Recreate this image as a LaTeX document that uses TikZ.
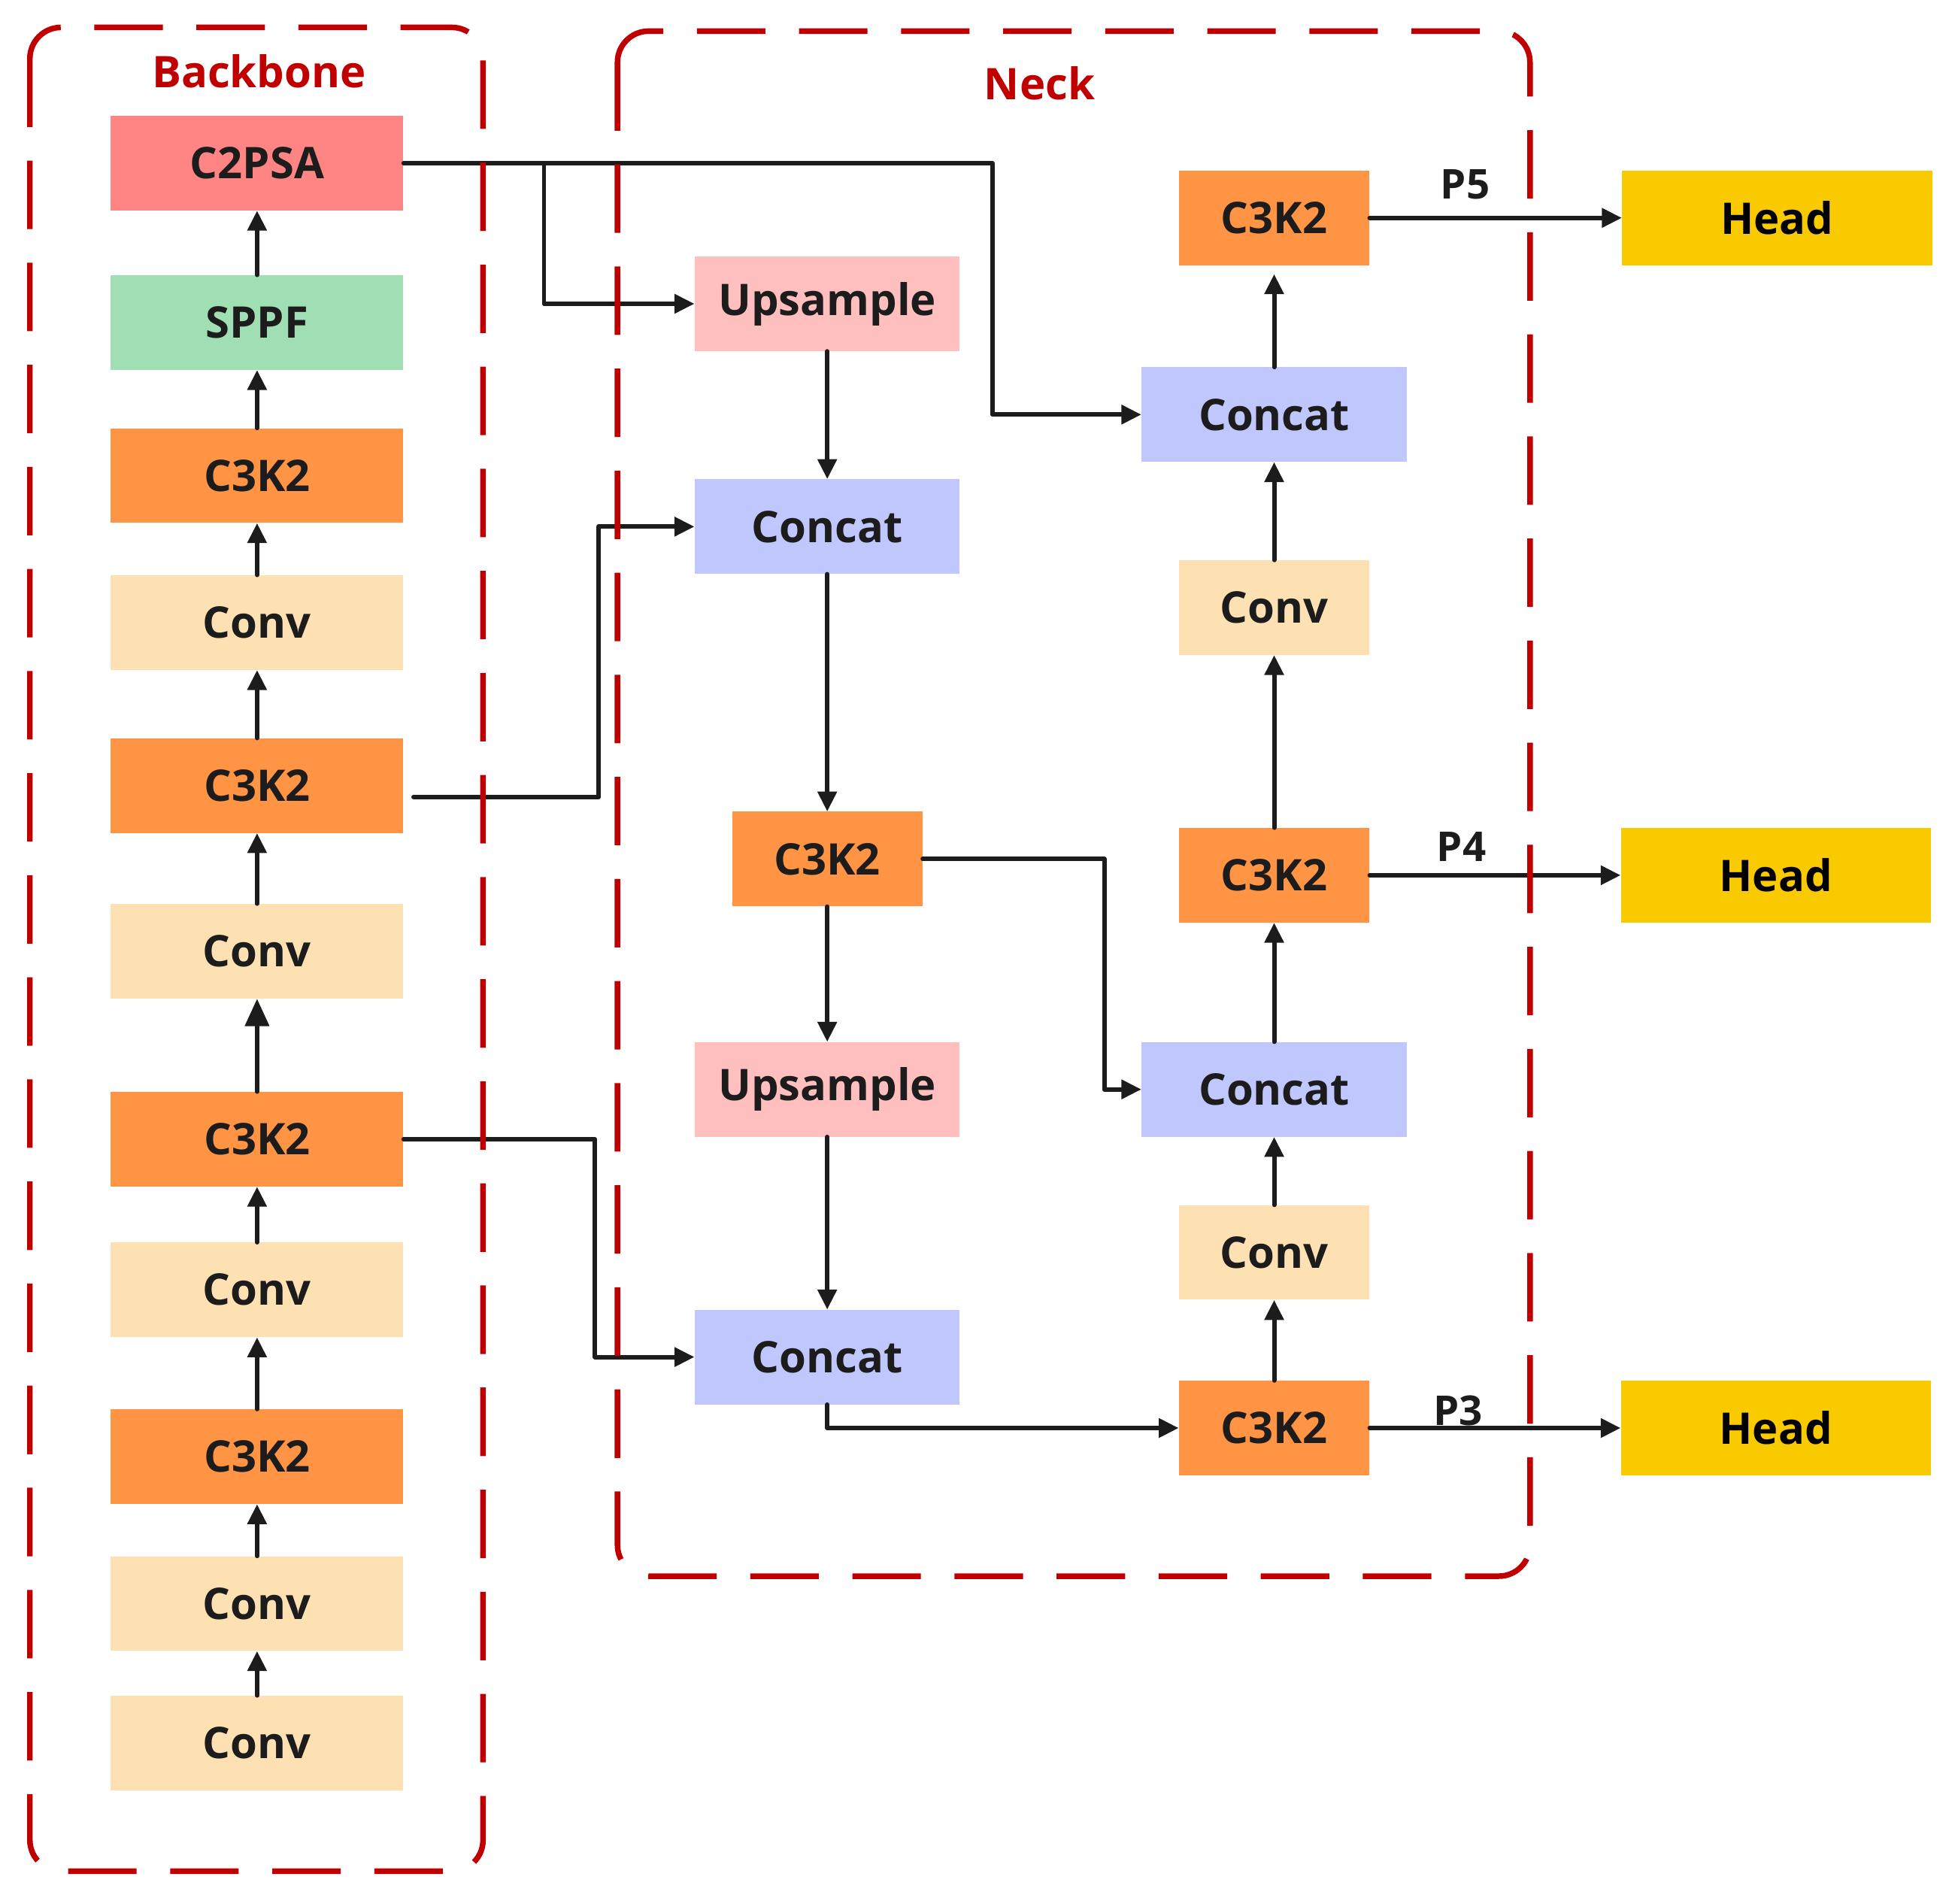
\documentclass[tikz,border=0pt]{standalone}
\usepackage{fontspec}
\setmainfont{Open Sans}
\usetikzlibrary{arrows.meta,calc}
\definecolor{dred}{HTML}{C00000}
\definecolor{ink}{HTML}{1C1C1C}
\definecolor{cpsa}{HTML}{FF8585}
\definecolor{csppf}{HTML}{A0DEB4}
\definecolor{cck}{HTML}{FF9544}
\definecolor{cconv}{HTML}{FDE1B3}
\definecolor{cups}{HTML}{FFBFBF}
\definecolor{ccat}{HTML}{BFC7FD}
\definecolor{chead}{HTML}{F9CA00}
\begin{document}
\begin{tikzpicture}[x=1pt,y=-1pt,
  blk/.style={inner sep=0pt, minimum height=76pt, font=\fontsize{35}{40}\selectfont\bfseries, text=ink},
  wide/.style={blk, minimum width=235pt},
  mid/.style={blk, minimum width=213pt},
  nar/.style={blk, minimum width=153pt},
  headbox/.style={blk, minimum width=249pt, fill=chead, text=black},
  conn/.style={line width=3.6pt, draw=ink, line cap=round, line join=round, -{Triangle[length=16pt,width=15pt]}},
  bigtip/.style={-{Triangle[length=22pt,width=19pt]}},
  grp/.style={draw=dred, line width=4.5pt, dash pattern=on 55pt off 27pt, rounded corners=25pt},
  grptitle/.style={font=\fontsize{35}{40}\selectfont\bfseries, text=dred},
  plabel/.style={font=\fontsize{33}{38}\selectfont\bfseries, text=ink}
]
\useasboundingbox (0,0) rectangle (1568,1529);

% Backbone
\node[wide, fill=cpsa] (b1) at (206.5,131) {C2PSA};
\node[wide, fill=csppf] (b2) at (206.5,259) {SPPF};
\node[wide, fill=cck] (b3) at (206.5,382) {C3K2};
\node[wide, fill=cconv] (b4) at (206.5,500) {Conv};
\node[wide, fill=cck] (b5) at (206.5,631) {C3K2};
\node[wide, fill=cconv] (b6) at (206.5,764) {Conv};
\node[wide, fill=cck] (b7) at (206.5,915) {C3K2};
\node[wide, fill=cconv] (b8) at (206.5,1036) {Conv};
\node[wide, fill=cck] (b9) at (206.5,1170) {C3K2};
\node[wide, fill=cconv] (b10) at (206.5,1288) {Conv};
\node[wide, fill=cconv] (b11) at (206.5,1400) {Conv};

% Neck column 1
\node[mid, fill=cups] (n1a) at (664.5,244) {Upsample};
\node[mid, fill=ccat] (n1b) at (664.5,423) {Concat};
\node[nar, fill=cck] (n1c) at (664.5,690) {C3K2};
\node[mid, fill=cups] (n1d) at (664.5,875) {Upsample};
\node[mid, fill=ccat] (n1e) at (664.5,1090) {Concat};

% Neck column 2
\node[nar, fill=cck] (n2a) at (1023.5,175) {C3K2};
\node[mid, fill=ccat] (n2b) at (1023.5,333) {Concat};
\node[nar, fill=cconv] (n2c) at (1023.5,488) {Conv};
\node[nar, fill=cck] (n2d) at (1023.5,703) {C3K2};
\node[mid, fill=ccat] (n2e) at (1023.5,875) {Concat};
\node[nar, fill=cconv] (n2f) at (1023.5,1006) {Conv};
\node[nar, fill=cck] (n2g) at (1023.5,1147) {C3K2};

% Heads
\node[headbox] (h1) at (1427.5,175) {Head};
\node[headbox] (h2) at (1426.5,703) {Head};
\node[headbox] (h3) at (1426.5,1147) {Head};

% Labels
\node[plabel] (p5) at (1177,148) {P5};
\node[plabel] (p4) at (1174,680) {P4};
\node[plabel] (p3) at (1171,1133) {P3};

% Backbone arrows
\foreach \a/\b in {11/10,10/9,9/8,8/7,6/5,5/4,4/3,3/2,2/1}
  \draw[conn] (b\a.north) -- (b\b.south);
\draw[conn, bigtip] (b7.north) -- (b6.south);

% Skip connections
\coordinate (split) at (437,131);
\draw[conn] (b1.east) -- (797,131) |- (n2b.west);
\draw[conn] (split) |- (n1a.west);
\draw[conn] ([shift={(8,9)}]b5.east) -- (481,640) |- (n1b.west);
\draw[conn] (b7.east) -- (478,915) |- (n1e.west);

% Neck column 1
\draw[conn] (n1a.south) -- (n1b.north);
\draw[conn] (n1b.south) -- (n1c.north);
\draw[conn] (n1c.south) -- (n1d.north);
\draw[conn] (n1d.south) -- (n1e.north);
\draw[conn] (n1e.south) |- (n2g.west);
\draw[conn] (n1c.east) -- (887,690) |- (n2e.west);

% Neck column 2
\draw[conn] (n2g.north) -- (n2f.south);
\draw[conn] (n2f.north) -- (n2e.south);
\draw[conn] (n2e.north) -- (n2d.south);
\draw[conn] (n2d.north) -- (n2c.south);
\draw[conn] (n2c.north) -- (n2b.south);
\draw[conn] (n2b.north) -- ([yshift=-7pt]n2a.south);

% Outputs
\draw[conn] (n2a.east) -- (h1.west);
\draw[conn] (n2d.east) -- (h2.west);
\draw[conn] (n2g.east) -- (h3.west);

% Group frames
\draw[grp] (24,22) rectangle (388,1503);
\draw[grp] (496,25) rectangle (1229,1266);
\node[grptitle] (tback) at (208,57) {Backbone};
\node[grptitle] (tneck) at (835,67) {Neck};
\end{tikzpicture}
\end{document}
